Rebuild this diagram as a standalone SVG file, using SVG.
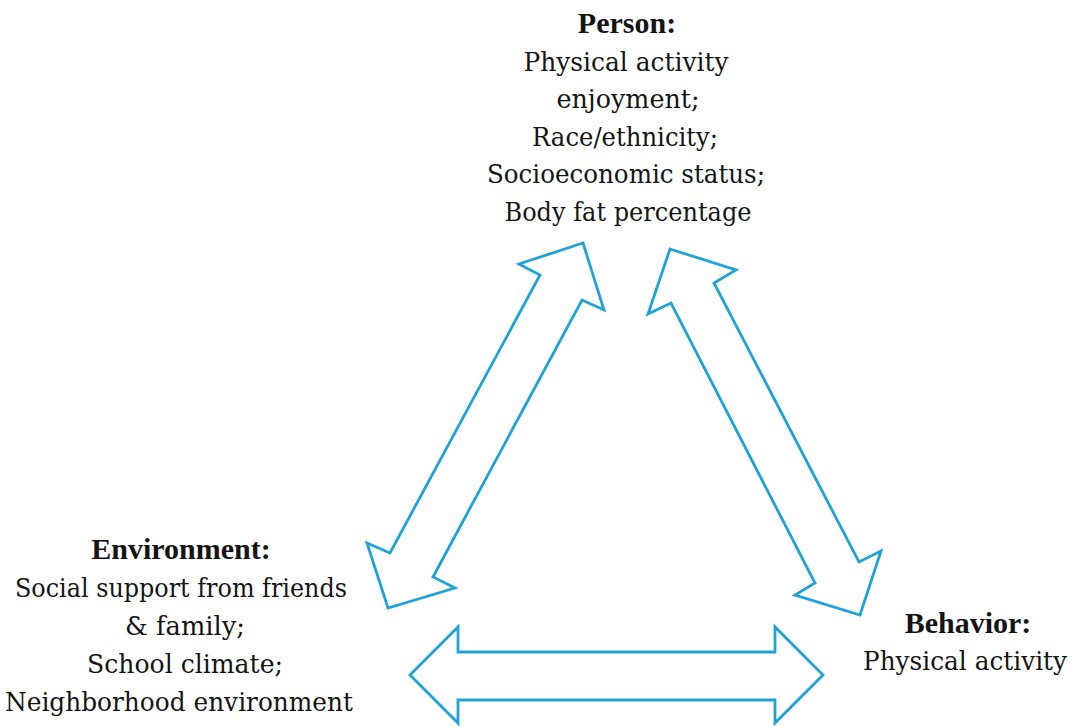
<svg xmlns="http://www.w3.org/2000/svg" width="1076" height="727" viewBox="0 0 1076 727">
  <style>
    .lbl { font-family: "DejaVu Serif", "Liberation Serif", serif; font-size: 26px; fill: #141414; text-anchor: middle; }
    .hd { font-family: "Liberation Serif", "DejaVu Serif", serif; font-size: 30px; font-weight: bold; }
    .arrow { fill: #ffffff; stroke: #1fa3d6; stroke-width: 2.8; stroke-linejoin: miter; }
  </style>
  <rect width="1076" height="727" fill="#ffffff"/>

  <g id="connectors">
    <!-- Person <-> Environment -->
    <polygon class="arrow" points="583,243 604,310 582,300 433,577 455,588 388,608 367,543 390,553 540,275 519,264"/>
    <!-- Person <-> Behavior -->
    <polygon class="arrow" points="670,249 736,270 714,283 859,562 881,551 860,615 795,595 815,583 671,303 648,314"/>
    <!-- Environment <-> Behavior -->
    <polygon class="arrow" points="410,675 458,627 458,652 775,652 775,627 823,675 775,723 775,700 458,700 458,723"/>
  </g>

  <g id="person">
    <text class="lbl hd" x="627" y="33">Person:</text>
    <text class="lbl" x="626" y="71" textLength="205" lengthAdjust="spacingAndGlyphs">Physical activity</text>
    <text class="lbl" x="628" y="108" textLength="143" lengthAdjust="spacingAndGlyphs">enjoyment;</text>
    <text class="lbl" x="625" y="146" textLength="186" lengthAdjust="spacingAndGlyphs">Race/ethnicity;</text>
    <text class="lbl" x="626" y="183" textLength="278" lengthAdjust="spacingAndGlyphs">Socioeconomic status;</text>
    <text class="lbl" x="628" y="221" textLength="247" lengthAdjust="spacingAndGlyphs">Body fat percentage</text>
  </g>

  <g id="environment">
    <text class="lbl hd" x="181" y="559">Environment:</text>
    <text class="lbl" x="181" y="597" textLength="332" lengthAdjust="spacingAndGlyphs">Social support from friends</text>
    <text class="lbl" x="185" y="635" textLength="120" lengthAdjust="spacingAndGlyphs">&amp; family;</text>
    <text class="lbl" x="185" y="673" textLength="196" lengthAdjust="spacingAndGlyphs">School climate;</text>
    <text class="lbl" x="179" y="711" textLength="348" lengthAdjust="spacingAndGlyphs">Neighborhood environment</text>
  </g>

  <g id="behavior">
    <text class="lbl hd" x="968" y="633">Behavior:</text>
    <text class="lbl" x="965" y="670" textLength="204" lengthAdjust="spacingAndGlyphs">Physical activity</text>
  </g>
</svg>
